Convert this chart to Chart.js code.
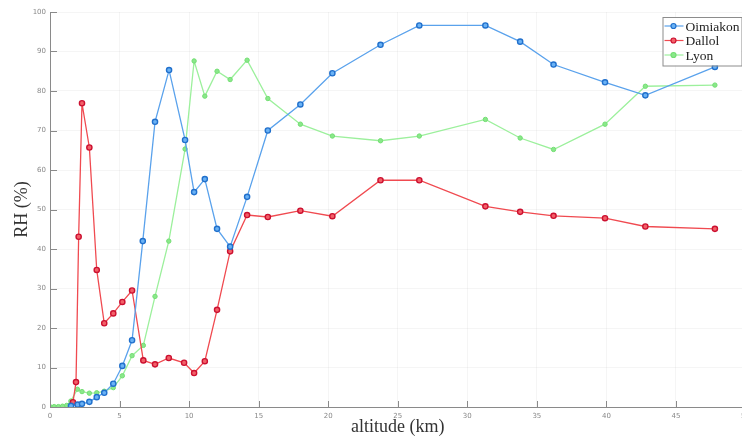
<!DOCTYPE html>
<html>
<head>
<meta charset="utf-8">
<script src="https://cdn.jsdelivr.net/npm/chart.js@4/dist/chart.umd.min.js"></script>
<style>
  html, body { margin: 0; padding: 0; background: #fff; overflow: hidden; }
  #wrap { width: 742px; height: 436px; overflow: hidden; position: relative; }
  canvas { position: absolute; left: 0; top: 0; }
</style>
</head>
<body>
<div id="wrap"><canvas id="rhChart" width="760" height="436"></canvas></div>
<script>
// altitude (km) and relative humidity (%) per station
const oimiakonAlt = [1.51, 1.99, 2.3, 2.83, 3.36, 3.9, 4.55, 5.2, 5.9, 6.67, 7.55, 8.56, 9.71, 10.36, 11.13, 12.01, 12.95, 14.17, 15.66, 18.0, 20.3, 23.76, 26.55, 31.3, 33.8, 36.2, 39.9, 42.8, 47.8];
const oimiakonRH = [0.3, 0.6, 0.8, 1.3, 2.5, 3.6, 5.9, 10.4, 16.9, 42.0, 72.2, 85.3, 67.6, 54.4, 57.7, 45.1, 40.6, 53.2, 70.0, 76.6, 84.5, 91.7, 96.6, 96.6, 92.5, 86.7, 82.2, 78.9, 86.1];

const dallolAlt = [1.65, 1.87, 2.06, 2.3, 2.83, 3.36, 3.9, 4.55, 5.2, 5.9, 6.71, 7.55, 8.54, 9.64, 10.36, 11.13, 12.01, 12.95, 14.17, 15.66, 18.0, 20.3, 23.76, 26.55, 31.3, 33.8, 36.2, 39.9, 42.8, 47.8];
const dallolRH = [1.2, 6.3, 43.1, 76.9, 65.7, 34.7, 21.2, 23.7, 26.6, 29.5, 11.8, 10.8, 12.4, 11.2, 8.6, 11.6, 24.6, 39.4, 48.6, 48.1, 49.7, 48.3, 57.4, 57.4, 50.8, 49.4, 48.4, 47.8, 45.7, 45.1];

const lyonAlt = [0, 0.3, 0.6, 0.9, 1.2, 1.5, 1.97, 2.3, 2.83, 3.36, 3.9, 4.55, 5.2, 5.9, 6.71, 7.55, 8.54, 9.71, 10.36, 11.13, 12.01, 12.95, 14.17, 15.66, 18.0, 20.3, 23.76, 26.55, 31.3, 33.8, 36.2, 39.9, 42.8, 47.8];
const lyonRH = [0.1, 0.1, 0.1, 0.2, 0.4, 1.5, 4.5, 3.9, 3.5, 3.6, 4.0, 4.9, 7.9, 13.0, 15.6, 28.0, 42.0, 65.3, 87.6, 78.7, 85.0, 82.9, 87.8, 78.1, 71.6, 68.6, 67.4, 68.6, 72.8, 68.1, 65.2, 71.6, 81.2, 81.5];

const xTicks = [0, 5, 10, 15, 20, 25, 30, 35, 40, 45, 50];
const yTicks = [0, 10, 20, 30, 40, 50, 60, 70, 80, 90, 100];

function points(xs, ys) {
    return xs.map((x, i) => ({ x: x, y: ys[i] }));
}

const serif = "'Liberation Serif', 'DejaVu Serif', serif";

// small inward tick marks on both axes
const inwardTicks = {
    id: 'inwardTicks',
    afterDatasetsDraw(chart) {
        const ctx = chart.ctx;
        const xs = chart.scales.x, ys = chart.scales.y;
        const area = chart.chartArea;
        ctx.save();
        ctx.strokeStyle = '#8a8a8a';
        ctx.lineWidth = 1;
        ctx.beginPath();
        xTicks.forEach(v => {
            const px = Math.round(xs.getPixelForValue(v)) + 0.5;
            ctx.moveTo(px, area.bottom);
            ctx.lineTo(px, area.bottom - 6);
        });
        yTicks.forEach(v => {
            const py = Math.round(ys.getPixelForValue(v)) + 0.5;
            ctx.moveTo(area.left, py);
            ctx.lineTo(area.left + 7, py);
        });
        ctx.stroke();
        ctx.restore();
    }
};

// matlab-style legend box: line + marker sample, then label
const boxLegend = {
    id: 'boxLegend',
    afterDraw(chart) {
        const ctx = chart.ctx;
        const area = chart.chartArea;
        const sets = chart.data.datasets;
        const w = 79, rowH = 14.5;
        const right = area.right - 4;
        const left = right - w;
        const top = 17;
        const h = rowH * sets.length + 5;
        ctx.save();
        ctx.fillStyle = '#fff';
        ctx.fillRect(left, top, w, h);
        ctx.strokeStyle = '#8c8c8c';
        ctx.lineWidth = 1;
        ctx.strokeRect(left + 0.5, top + 0.5, w, h);
        ctx.font = '13.5px ' + serif;
        ctx.textBaseline = 'middle';
        sets.forEach((ds, i) => {
            const cy = top + 9 + i * rowH;
            ctx.strokeStyle = ds.borderColor;
            ctx.lineWidth = 1.2;
            ctx.beginPath();
            ctx.moveTo(left + 2, cy);
            ctx.lineTo(left + 21, cy);
            ctx.stroke();
            ctx.beginPath();
            ctx.arc(left + 11, cy, 2.5, 0, Math.PI * 2);
            ctx.fillStyle = ds.pointBackgroundColor;
            ctx.fill();
            ctx.strokeStyle = ds.pointBorderColor;
            ctx.stroke();
            ctx.fillStyle = '#222';
            ctx.fillText(ds.label, left + 23, cy + 1);
        });
        ctx.restore();
    }
};

const ctx = document.getElementById('rhChart').getContext('2d');
new Chart(ctx, {
    type: 'line',
    data: {
        datasets: [{
            label: 'Oimiakon',
            data: points(oimiakonAlt, oimiakonRH),
            borderColor: '#5aa2ec',
            borderWidth: 1.3,
            pointRadius: 2.6,
            pointBorderWidth: 1.4,
            pointBackgroundColor: '#6ab2f5',
            pointBorderColor: '#2170cc'
        }, {
            label: 'Dallol',
            data: points(dallolAlt, dallolRH),
            borderColor: '#f04a50',
            borderWidth: 1.3,
            pointRadius: 2.6,
            pointBorderWidth: 1.4,
            pointBackgroundColor: '#f26068',
            pointBorderColor: '#cc1030'
        }, {
            label: 'Lyon',
            data: points(lyonAlt, lyonRH),
            borderColor: '#9cf09c',
            borderWidth: 1.3,
            pointRadius: 2.2,
            pointBorderWidth: 1,
            pointBackgroundColor: '#8ae88a',
            pointBorderColor: '#74de74'
        }]
    },
    options: {
        responsive: false,
        animation: false,
        devicePixelRatio: 1,
        layout: { padding: { top: 12, right: 14.5, bottom: 0, left: 0 } },
        plugins: {
            legend: { display: false },
            tooltip: { enabled: false }
        },
        scales: {
            x: {
                type: 'linear',
                min: 0,
                max: 50,
                afterFit: s => { s.height = 29; },
                border: { color: '#8a8a8a', width: 1 },
                grid: { color: 'rgba(0,0,0,0.04)', drawTicks: false },
                ticks: {
                    stepSize: 5,
                    padding: 4.5,
                    maxRotation: 0,
                    color: '#888',
                    font: { size: 7, family: "'DejaVu Sans', sans-serif" }
                },
                title: {
                    display: true,
                    text: 'altitude (km)',
                    color: '#333',
                    font: { size: 18, family: serif, lineHeight: 1 },
                    padding: { top: 0, bottom: 0 }
                }
            },
            y: {
                min: 0,
                max: 100,
                afterFit: s => { s.width = 50; },
                border: { color: '#8a8a8a', width: 1 },
                grid: { color: 'rgba(0,0,0,0.04)', drawTicks: false },
                ticks: {
                    stepSize: 10,
                    padding: 4,
                    color: '#888',
                    font: { size: 7, family: "'DejaVu Sans', sans-serif" }
                },
                title: {
                    display: true,
                    text: 'RH (%)',
                    color: '#333',
                    font: { size: 18, family: serif, lineHeight: 1 },
                    padding: { top: 13, bottom: 0 }
                }
            }
        }
    },
    plugins: [inwardTicks, boxLegend]
});
</script>
</body>
</html>
